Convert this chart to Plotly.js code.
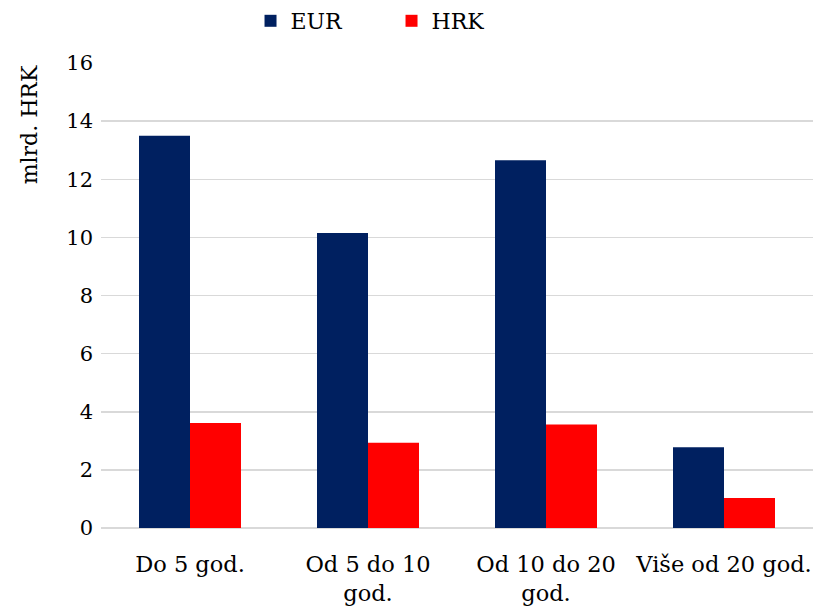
<!DOCTYPE html>
<html>
<head>
<meta charset="utf-8">
<script src="https://cdn.plot.ly/plotly-3.0.1.min.js"></script>
<style>
  body { margin: 0; background: #fff; }
  #chart { width: 814px; height: 611px; }
</style>
</head>
<body>
<div id="chart"></div>
<script>
// maturity buckets
var categories = ['Do 5 god.', 'Od 5 do 10<br>god.', 'Od 10 do 20<br>god.', 'Više od 20 god.'];
var eurValues = [13.5, 10.15, 12.65, 2.78];
var hrkValues = [3.61, 2.93, 3.56, 1.03];
var yTicks = [0, 2, 4, 6, 8, 10, 12, 14, 16];

var serif = 'DejaVu Serif';

var data = [
  {x: categories, y: eurValues, name: 'EUR', type: 'bar', marker: {color: '#002060'}},
  {x: categories, y: hrkValues, name: 'HRK', type: 'bar', marker: {color: '#FF0000'}}
];

var layout = {
  width: 814,
  height: 611,
  margin: {l: 101, r: 1, t: 63, b: 83},
  paper_bgcolor: '#ffffff',
  plot_bgcolor: '#ffffff',
  font: {family: serif, size: 22, color: '#000000'},
  barmode: 'group',
  bargap: 0.427,
  bargroupgap: 0,
  showlegend: true,
  legend: {
    orientation: 'h', x: 0.21, xanchor: 'left', y: 1.0, yref: 'container', yanchor: 'top',
    font: {family: serif, size: 22},
    itemwidth: 30, entrywidth: 96
  },
  xaxis: {
    type: 'category', showgrid: false, showline: false, ticks: '', ticklabelstandoff: 20,
    tickfont: {family: serif, size: 22.5}, automargin: false
  },
  yaxis: {
    range: [0, 16], tickvals: yTicks, showgrid: true, gridcolor: '#D9D9D9', gridwidth: 1.5,
    zeroline: true, zerolinecolor: '#D9D9D9', zerolinewidth: 1.5, ticks: '', ticklabelstandoff: 7,
    tickfont: {family: serif, size: 21}, automargin: false
  },
  annotations: [{
    text: 'mlrd. HRK', textangle: -90, xref: 'paper', yref: 'paper', x: -0.1, y: 1.0,
    xanchor: 'center', yanchor: 'top', showarrow: false, font: {family: serif, size: 22}
  }]
};

Plotly.newPlot('chart', data, layout, {displayModeBar: false, staticPlot: true});
</script>
</body>
</html>
